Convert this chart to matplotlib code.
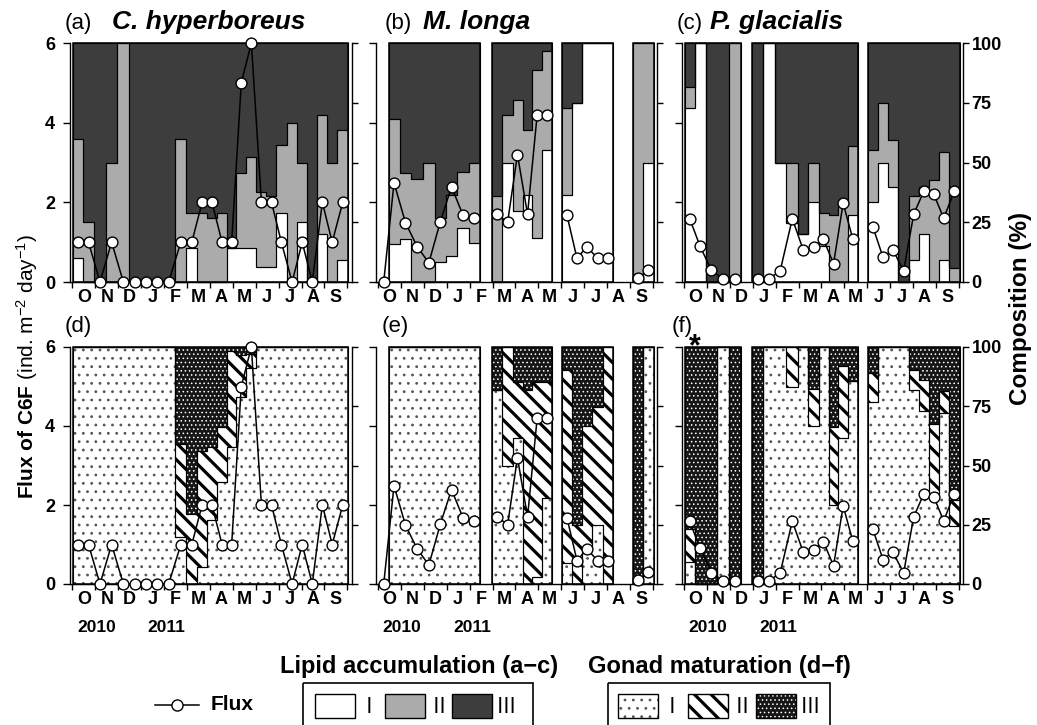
import numpy as np
import matplotlib
matplotlib.use("Agg")
import matplotlib.pyplot as plt
from matplotlib.patches import Rectangle
import matplotlib.transforms as mtransforms

nan = np.nan

# ---------------- data ----------------
months = ["O", "N", "D", "J", "F", "M", "A", "M", "J", "J", "A", "S"]
years = ["2010", "2011"]
year_pos = [1.05, 4.1]          # month position of the year labels

# sample mid-dates (months since 1 Oct 2010)
sample_month = [0.25, 0.70, 1.20, 1.71, 2.22, 2.72, 3.21, 3.71, 4.20, 4.73, 5.21, 5.66, 6.09,
                6.53, 6.95, 7.37, 7.81, 8.25, 8.69, 9.12, 9.59, 10.03, 10.47, 10.91, 11.34, 11.80]

species = ["C. hyperboreus", "M. longa", "P. glacialis"]
panel_tags = [["(a)", "(b)", "(c)"], ["(d)", "(e)", "(f)"]]

# flux of C6F (ind. m-2 day-1)
flux_ch = [1.0, 1.0, 0.0, 1.0, 0.0, 0.0, 0.0, 0.0, 0.0, 1.0, 1.0, 2.0, 2.0, 1.0, 1.0, 5.0, 6.0,
           2.0, 2.0, 1.0, 0.0, 1.0, 0.0, 2.0, 1.0, 2.0]
flux_ml = [0.0, 2.49, 1.49, 0.89, 0.48, 1.51, 2.39, 1.68, 1.60, nan, 1.70, 1.50, 3.20, 1.70, 4.20,
           4.20, nan, 1.68, 0.59, 0.89, 0.59, 0.59, nan, nan, 0.09, 0.30]
flux_pg = [1.59, 0.90, 0.29, 0.08, 0.08, nan, 0.08, 0.08, 0.28, 1.59, 0.80, 0.87, 1.07, 0.46, 1.98,
           1.08, nan, 1.38, 0.62, 0.81, 0.28, 1.70, 2.28, 2.20, 1.60, 2.28]

# lipid accumulation stages (%)
lipI_ch = [9.9, 0, 0, 0, 0, 0, 0, 0, 0, 0, 14.1, 0, 0, 0, 14.1, 14.1, 14.1, 6.3, 6.3, 28.9, 0,
           25.0, 0, 20.1, 0, 9.3]
lipII_ch = [50.0, 25.0, 0, 50.0, 100, 0, 0, 0, 0, 59.9, 14.8, 28.9, 26.8, 28.9, 0, 31.7, 38.3,
            31.4, 29.7, 28.3, 66.6, 25.0, 0, 49.8, 50.0, 54.5]
lipIII_ch = [40.1, 75.0, 100, 50.0, 0, 100, 100, 100, 100, 40.1, 71.1, 71.1, 73.2, 71.1, 85.9,
             54.2, 47.6, 62.3, 64.0, 42.8, 33.4, 50.0, 100, 30.1, 50.0, 36.2]

lipI_ml = [nan, 15.7, 18.0, 0, 0, 8.5, 11.0, 22.7, 16.2, nan, 0, 50.0, 29.7, 36.6, 18.5, 55.4,
           nan, 36.4, 74.7, 100, 100, 100, nan, nan, 0, 49.6]
lipII_ml = [nan, 52.7, 27.4, 42.9, 49.6, 18.1, 25.4, 23.3, 33.4, nan, 36.0, 20.0, 46.3, 27.2,
            70.4, 41.1, nan, 36.2, 0, 0, 0, 0, nan, nan, 100, 50.4]
lipIII_ml = [nan, 31.6, 54.6, 57.1, 50.4, 73.4, 63.6, 54.0, 50.4, nan, 64.0, 30.0, 24.0, 36.2,
             11.1, 3.5, nan, 27.4, 25.3, 0, 0, 0, nan, nan, 0, 0]

lipI_pg = [72.6, 100, 0, 0, 0, nan, 0, 100, 49.7, 24.7, 19.9, 33.3, 15.0, 0, 0, 28.2, nan, 33.4,
           50.0, 39.7, 0, 9.3, 19.9, 0, 9.3, 0]
lipII_pg = [8.8, 0, 0, 0, 100, nan, 0, 0, 0, 25.0, 0, 16.4, 13.9, 28.2, 32.4, 28.7, nan, 22.0,
            25.0, 19.9, 0, 26.7, 19.8, 42.6, 45.1, 5.9]
lipIII_pg = [18.6, 0, 100, 100, 0, nan, 100, 0, 50.3, 50.3, 80.1, 50.3, 71.1, 71.8, 67.6, 43.1,
             nan, 44.6, 25.0, 40.4, 100, 64.0, 60.3, 57.4, 45.6, 94.1]

# gonad maturation stages (%)
gonI_ch = [100, 100, 100, 100, 100, 100, 100, 100, 100, 19.7, 0, 7.0, 26.8, 43.0, 57.7, 78.9,
           91.0, 100, 100, 100, 100, 100, 100, 100, 100, 100]
gonII_ch = [0, 0, 0, 0, 0, 0, 0, 0, 0, 39.4, 29.6, 49.3, 31.2, 23.2, 40.8, 17.6, 6.0, 0, 0, 0,
            0, 0, 0, 0, 0, 0]
gonIII_ch = [0, 0, 0, 0, 0, 0, 0, 0, 0, 40.9, 70.4, 43.7, 42.0, 33.8, 1.5, 3.5, 3.0, 0, 0, 0, 0,
             0, 0, 0, 0, 0]

gonI_ml = [nan, 100, 100, 100, 100, 100, 100, 100, 100, nan, 81.8, 49.7, 61.5, 0, 3.1, 36.4, nan,
           8.7, 0, 15.0, 24.9, 0, nan, nan, 0, 100]
gonII_ml = [nan, 0, 0, 0, 0, 0, 0, 0, 0, nan, 0, 50.3, 23.8, 82.0, 82.2, 48.9, nan, 81.5, 25.0,
            51.5, 49.8, 100, nan, nan, 0, 0]
gonIII_ml = [nan, 0, 0, 0, 0, 0, 0, 0, 0, nan, 18.2, 0, 14.7, 18.0, 14.7, 14.7, nan, 9.8, 75.0,
             33.5, 25.3, 0, nan, nan, 100, 0]

gonI_pg = [9.3, 0, 0, 100, 0, nan, 0, 100, 100, 83.3, 100, 66.5, 100, 33.5, 61.4, 85.8, nan, 77.0,
           100, 100, 100, 82.0, 73.0, 37.7, 72.3, 24.6]
gonII_pg = [13.9, 0, 0, 0, 0, nan, 0, 0, 0, 16.7, 0, 15.8, 0, 32.8, 30.7, 0, nan, 12.0, 0, 0, 0,
            8.3, 13.1, 29.8, 9.0, 11.0]
gonIII_pg = [76.8, 100, 100, 0, 100, nan, 100, 0, 0, 0, 0, 17.7, 0, 33.7, 7.9, 14.2, nan, 11.0,
             0, 0, 0, 9.7, 13.9, 32.5, 18.7, 64.4]

stage_labels = ["\u2160", "\u2161", "\u2162"]

# ---------------- style ----------------
plt.rcParams['font.family'] = ['Liberation Sans', 'DejaVu Sans']
plt.rcParams['mathtext.fontset'] = 'custom'
plt.rcParams['mathtext.rm'] = 'Liberation Sans'
plt.rcParams['mathtext.bf'] = 'Liberation Sans:bold'
plt.rcParams['mathtext.it'] = 'Liberation Sans:italic'
plt.rcParams['axes.linewidth'] = 1.0

LIPID_STYLE = [dict(fc='white'), dict(fc='#ababab'), dict(fc='#3d3d3d')]
GONAD_STYLE = [dict(fc='white', hatch='..', hc='#555555', hlw=0.8),
               dict(fc='white', hatch='\\\\', hc='black', hlw=2.3),
               dict(fc='#161616', hatch='....', hc='white', hlw=0.6)]

W, H = 1037, 725
fig = plt.figure(figsize=(W / 100, H / 100), dpi=100)

t = np.asarray(sample_month)
edges = np.concatenate([[t[0] - (t[1] - t[0]) / 2], (t[:-1] + t[1:]) / 2,
                        [t[-1] + (t[-1] - t[-2]) / 2]])


def set_hlw(artist, lw):
    if hasattr(artist, 'set_hatch_linewidth'):
        artist.set_hatch_linewidth(lw)


def styled_fill(ax, x, lo, hi, st):
    kw = dict(step='post', facecolor=st['fc'], linewidth=0, zorder=1)
    if 'hatch' in st:
        with plt.rc_context({'hatch.linewidth': st['hlw']}):
            coll = ax.fill_between(x, lo, hi, hatch=st['hatch'], edgecolor=st['hc'], **kw)
        set_hlw(coll, st['hlw'])
    else:
        ax.fill_between(x, lo, hi, edgecolor='none', **kw)
    ax.fill_between(x, lo, hi, step='post', facecolor='none', edgecolor='black',
                    linewidth=0.8, zorder=2, clip_on=False)


def runs_of(valid):
    runs, start = [], None
    for i, v in enumerate(valid):
        if v and start is None:
            start = i
        if not v and start is not None:
            runs.append((start, i))
            start = None
    if start is not None:
        runs.append((start, len(valid)))
    return runs


def draw_composition(ax, stages, styles):
    s1, s2, s3 = [np.asarray(s, float) for s in stages]
    c0 = np.zeros_like(s1)
    c1 = s1
    c2 = s1 + s2
    c3 = s1 + s2 + s3
    for a, b in runs_of(~np.isnan(s1)):
        x = edges[a:b + 1]
        for lo, hi, st in [(c0, c1, styles[0]), (c1, c2, styles[1]), (c2, c3, styles[2])]:
            lo_e = np.append(lo[a:b], lo[b - 1])
            hi_e = np.append(hi[a:b], hi[b - 1])
            styled_fill(ax, x, lo_e, hi_e, st)
        ax.add_patch(Rectangle((edges[a], 0), edges[b] - edges[a], 100, fill=False,
                               ec='black', lw=1.1, zorder=3, clip_on=False))


lipid_sets = [(lipI_ch, lipII_ch, lipIII_ch), (lipI_ml, lipII_ml, lipIII_ml),
              (lipI_pg, lipII_pg, lipIII_pg)]
gonad_sets = [(gonI_ch, gonII_ch, gonIII_ch), (gonI_ml, gonII_ml, gonIII_ml),
              (gonI_pg, gonII_pg, gonIII_pg)]
flux_sets = [flux_ch, flux_ml, flux_pg]

# layout (pixels)
lefts_px = [70.2, 375.7, 681.7]
width_px = 281.7
rows_px = [(43, 282), (347, 584)]
xlim = (-0.1, 12.2)
tag_x = [[65, 385, 677], [65, 382, 672]]
species_x = [112, 423, 710]
title_y = [29, 332]

for r in range(2):
    for c in range(3):
        top, bot = rows_px[r]
        ax = fig.add_axes([lefts_px[c] / W, 1 - bot / H, width_px / W, (bot - top) / H])
        ax.set_xlim(*xlim)
        ax.set_ylim(0, 100)
        if r == 0:
            draw_composition(ax, lipid_sets[c], LIPID_STYLE)
        else:
            draw_composition(ax, gonad_sets[c], GONAD_STYLE)
        ax.spines['top'].set_visible(False)
        ax.set_xticks(range(13))
        ax.set_xticks(np.arange(0.5, 12, 1), months, minor=True)
        ax.tick_params(axis='x', which='major', direction='out', length=4, width=1,
                       labelbottom=False)
        ax.tick_params(axis='x', which='minor', length=0, pad=5, labelsize=13)
        for lbl in ax.get_xticklabels(minor=True):
            lbl.set_fontweight('bold')

        ax2 = ax.twinx()
        ax2.set_ylim(0, 6)
        for s in ax2.spines.values():
            s.set_visible(False)

        # composition ticks on the right
        ax.yaxis.tick_right()
        ax.set_yticks([0, 25, 50, 75, 100])
        ax.tick_params(axis='y', direction='out', length=4, width=1, right=True, left=False,
                       labelright=(c == 2), labelleft=False, labelsize=13, pad=2)
        for lbl in ax.get_yticklabels():
            lbl.set_fontweight('bold')

        # flux ticks on the left
        ax2.yaxis.tick_left()
        ax2.set_yticks([0, 2, 4, 6])
        ax2.tick_params(axis='y', direction='out', length=5, width=1, left=True, right=False,
                        labelleft=(c == 0), labelright=False, labelsize=13, pad=6)
        for lbl in ax2.get_yticklabels():
            lbl.set_fontweight('bold')
        ax2.plot(sample_month, flux_sets[c], color='black', lw=1.1, marker='o', ms=7.8,
                 mfc='white', mec='black', mew=1.0, zorder=5, clip_on=False)

        # panel title
        fig.text(tag_x[r][c] / W, 1 - title_y[r] / H, panel_tags[r][c], fontsize=16,
                 va='baseline')
        if r == 0:
            fig.text(species_x[c] / W, 1 - title_y[r] / H, species[c], fontsize=19,
                     fontweight='bold', style='italic', va='baseline')

        if r == 1:
            trans = mtransforms.blended_transform_factory(ax.transData, ax.transAxes)
            for yr, xp in zip(years, year_pos):
                ax.text(xp, -0.185, yr, transform=trans, ha='center', va='center',
                        fontsize=12.5, fontweight='bold')
        if r == 1 and c == 2:
            ax.annotate('*', xy=(edges[1], 100), xytext=(0, -6), textcoords='offset points',
                        ha='center', va='baseline', fontsize=22, fontweight='bold',
                        annotation_clip=False)

# axis titles
fig.text(27 / W, 1 - 366 / H, r"$\mathbf{Flux\ of\ C6F}$ (ind. m$^{-2}$ day$^{-1}$)",
         rotation=90, ha='center', va='center', fontsize=15)
fig.text(1021 / W, 1 - 308 / H, "Composition (%)", rotation=90, ha='center', va='center',
         fontsize=17.5, fontweight='bold')

# ---------------- legend (pixel coordinates) ----------------
lax = fig.add_axes([0, 0, 1, 1])
lax.set_xlim(0, W)
lax.set_ylim(H, 0)
lax.axis('off')

lax.text(419, 666, "Lipid accumulation (a\u2212c)", ha='center', va='center', fontsize=17,
         fontweight='bold')
lax.text(719, 666, "Gonad maturation (d\u2212f)", ha='center', va='center', fontsize=17,
         fontweight='bold')

lax.plot([155, 199], [705, 705], color='black', lw=1.1)
lax.plot([177], [705], marker='o', ms=8, mfc='white', mec='black', mew=1.0)
lax.text(211, 705, "Flux", ha='left', va='center', fontsize=15, fontweight='bold')

for x0, x1 in [(303, 533), (608, 830)]:
    lax.add_patch(Rectangle((x0, 683), x1 - x0, 60, fill=False, ec='black', lw=1.2))

sq_y, sq_h, sq_w = 694, 24, 40
for styles, xs in [(LIPID_STYLE, [315, 385, 452]), (GONAD_STYLE, [618, 688, 756])]:
    for st, x, lab in zip(styles, xs, stage_labels):
        if 'hatch' in st:
            with plt.rc_context({'hatch.linewidth': st['hlw']}):
                p = Rectangle((x, sq_y), sq_w, sq_h, facecolor=st['fc'], edgecolor=st['hc'],
                              hatch=st['hatch'], lw=0)
            set_hlw(p, st['hlw'])
            lax.add_patch(p)
        else:
            lax.add_patch(Rectangle((x, sq_y), sq_w, sq_h, facecolor=st['fc'],
                                    edgecolor='none', lw=0))
        lax.add_patch(Rectangle((x, sq_y), sq_w, sq_h, fill=False, ec='black', lw=1.0))
        lax.text(x + sq_w + 4, sq_y + sq_h / 2 + 1, lab, ha='left', va='center', fontsize=15,
                 family=['Noto Sans CJK JP', 'DejaVu Sans'])

fig.savefig('out.png', dpi=100)
